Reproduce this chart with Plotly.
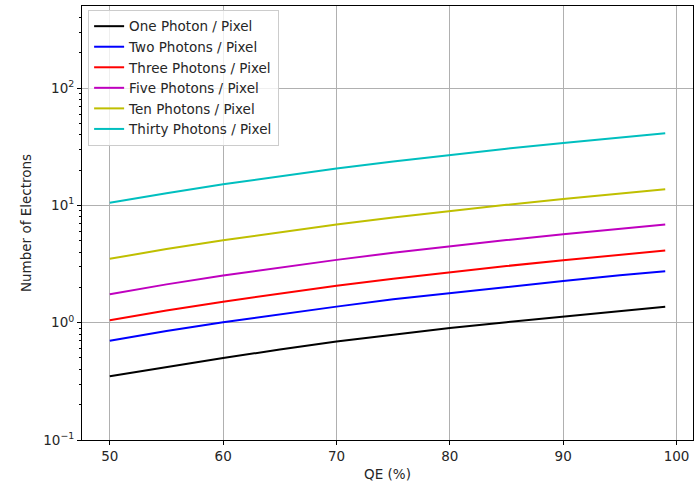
import plotly.graph_objects as go

qe = [50, 55, 60, 65, 70, 75, 80, 85, 90, 95, 99]
one = [0.35, 0.42, 0.50, 0.59, 0.69, 0.79, 0.90, 1.01, 1.13, 1.26, 1.37]
two = [0.70, 0.85, 1.01, 1.18, 1.37, 1.58, 1.79, 2.02, 2.27, 2.53, 2.74]
three = [1.05, 1.27, 1.51, 1.77, 2.06, 2.37, 2.69, 3.04, 3.40, 3.79, 4.12]
five = [1.75, 2.12, 2.52, 2.96, 3.43, 3.94, 4.48, 5.06, 5.67, 6.32, 6.86]
ten = [3.5, 4.24, 5.04, 5.92, 6.86, 7.88, 8.96, 10.1, 11.3, 12.6, 13.7]
thirty = [10.5, 12.7, 15.1, 17.7, 20.6, 23.6, 26.9, 30.4, 34.0, 37.9, 41.2]

names = ["One Photon / Pixel", "Two Photons / Pixel", "Three Photons / Pixel",
         "Five Photons / Pixel", "Ten Photons / Pixel", "Thirty Photons / Pixel"]
series = [one, two, three, five, ten, thirty]
colors = ["#000000", "#0000ff", "#ff0000", "#bf00bf", "#bfbf00", "#00bfbf"]

x_ticks = [50, 60, 70, 80, 90, 100]
y_ticks = [0.1, 1, 10, 100]
y_ticktext = ["10<sup>−1</sup>", "10<sup>0</sup>", "10<sup>1</sup>", "10<sup>2</sup>"]
y_minor = [0.2, 0.3, 0.4, 0.5, 0.6, 0.7, 0.8, 0.9,
           2, 3, 4, 5, 6, 7, 8, 9,
           20, 30, 40, 50, 60, 70, 80, 90,
           200, 300, 400]

fig = go.Figure()
for n, s, c in zip(names, series, colors):
    fig.add_trace(go.Scatter(x=qe, y=s, mode="lines", name=n,
                             line=dict(color=c, width=2)))

fs = 13.5
font = dict(family="DejaVu Sans", size=fs, color="#262626")
fig.update_layout(
    width=700, height=483,
    margin=dict(l=82, r=7, t=6, b=43),
    paper_bgcolor="white", plot_bgcolor="white",
    font=font,
    showlegend=True,
    legend=dict(x=0.01, y=0.991, xanchor="left", yanchor="top",
                bgcolor="rgba(255,255,255,0.8)", bordercolor="#cccccc",
                borderwidth=1, font=font, itemwidth=30, tracegroupgap=0),
    xaxis=dict(range=[47.55, 101.45], tickvals=x_ticks, ticks="outside", ticklen=4,
               tickcolor="black", showline=True, linecolor="black", linewidth=1,
               mirror=True, showgrid=True, gridcolor="#b0b0b0", gridwidth=0.8,
               zeroline=False, automargin=False, tickfont=font,
               title=dict(text="QE (%)", font=font, standoff=6)),
    yaxis=dict(type="log", range=[-1, 2.699], tickvals=y_ticks, ticktext=y_ticktext,
               ticks="outside", ticklen=4, tickcolor="black", showline=True,
               linecolor="black", linewidth=1, mirror=True, showgrid=True,
               gridcolor="#b0b0b0", gridwidth=0.8, zeroline=False,
               automargin=False, tickfont=font,
               minor=dict(tickmode="array", tickvals=y_minor, ticks="outside",
                          ticklen=2, tickcolor="black", showgrid=False),
               title=dict(text="Number of Electrons", font=font, standoff=8)),
)
fig.write_html("out.html", config={"displayModeBar": False},
               post_script="document.body.style.margin='0';")
